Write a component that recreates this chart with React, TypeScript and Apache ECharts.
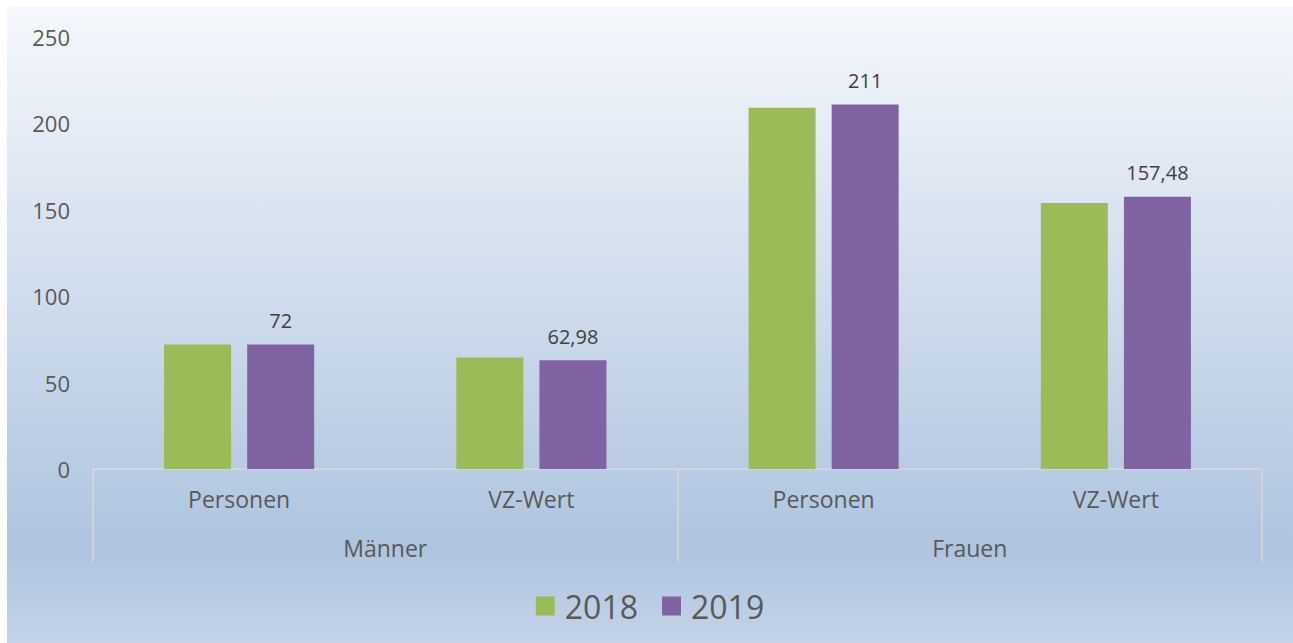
import React, { useEffect, useRef } from "react";
import * as echarts from "echarts";

const categories = ["Personen", "VZ-Wert", "Personen", "VZ-Wert"];
const groups = ["Männer", "Frauen"];
const values2018 = [72, 64.5, 209, 154];
const values2019 = [72, 62.98, 211, 157.48];
const yTicks = { min: 0, max: 250, interval: 50 };

export default function App() {
  const ref = useRef<HTMLDivElement>(null);
  useEffect(() => {
    if (!ref.current) return;
    const chart = echarts.init(ref.current, undefined, { renderer: "svg" });
    const font = "Open Sans";
    chart.setOption({
      animation: false,
      backgroundColor: new echarts.graphic.LinearGradient(0, 0, 0, 1, [
        { offset: 0, color: "#f5f8fc" },
        { offset: 0.85, color: "#aec4df" },
        { offset: 1, color: "#c4d3e8" },
      ]),
      textStyle: { fontFamily: font },
      grid: { left: 86, right: 31, top: 30, bottom: 174, containLabel: false },
      legend: {
        data: ["2018", "2019"],
        bottom: 16,
        left: "center",
        itemWidth: 19,
        itemHeight: 19,
        itemGap: 24,
        icon: "rect",
        textStyle: { fontSize: 32, color: "#595959", fontFamily: font, padding: [0, 0, 0, 5] },
      },
      xAxis: [
        {
          type: "category",
          data: categories,
          position: "bottom",
          axisLine: { show: true, lineStyle: { color: "#d9d9d9", width: 1.5 } },
          axisTick: { show: false },
          axisLabel: { margin: 18, fontSize: 23, color: "#595959", fontFamily: font },
          splitLine: { show: false },
        },
        {
          type: "category",
          data: groups,
          position: "bottom",
          boundaryGap: true,
          axisLine: { show: false },
          axisTick: { show: true, length: 93, lineStyle: { color: "#d9d9d9", width: 1.5 } },
          axisLabel: { margin: 67, fontSize: 23, color: "#595959", fontFamily: font },
          splitLine: { show: false },
        },
      ],
      yAxis: {
        type: "value",
        min: yTicks.min,
        max: yTicks.max,
        interval: yTicks.interval,
        axisLine: { show: false },
        axisTick: { show: false },
        splitLine: { show: false },
        axisLabel: { margin: 23, fontSize: 22, color: "#595959", fontFamily: font },
      },
      series: [
        {
          name: "2018",
          type: "bar",
          data: values2018,
          barWidth: 67,
          barGap: "24%",
          itemStyle: { color: "#9bbb59" },
        },
        {
          name: "2019",
          type: "bar",
          data: values2019,
          barWidth: 67,
          barGap: "24%",
          itemStyle: { color: "#8064a2" },
          label: {
            show: true,
            position: "top",
            distance: 14,
            fontSize: 20,
            color: "#404040",
            fontFamily: font,
            formatter: (p: any) => String(p.value).replace(".", ","),
          },
        },
      ],
    });
    return () => chart.dispose();
  }, []);
  return (
    <div
      ref={ref}
      style={{ position: "fixed", left: 7, top: 7, width: 1286, height: 636 }}
    />
  );
}
